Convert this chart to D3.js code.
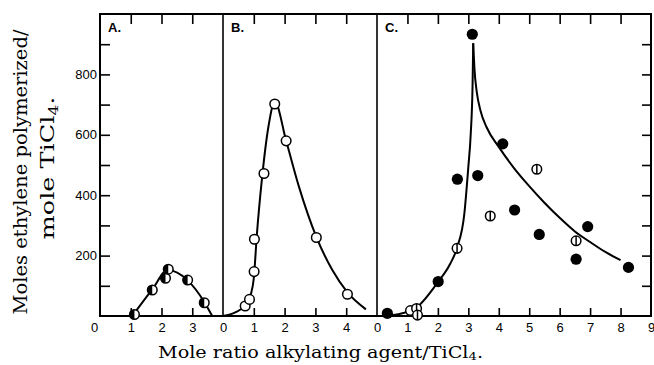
<!DOCTYPE html>
<html>
<head>
<meta charset="utf-8">
<script src="https://cdn.jsdelivr.net/npm/d3@7"></script>
<style>
  html, body { margin: 0; padding: 0; background: #fff; }
  svg { display: block; }
</style>
</head>
<body>
<svg id="chart" width="654" height="365"></svg>
<script>
// ---------- Data ----------
// Panel A: half-filled circles
const aX = [1.12, 1.7, 2.13, 2.22, 2.85, 3.39];
const aY = [5, 86, 125, 155, 119, 44];
const aCurveX = [1.05, 1.7, 2.2, 2.85, 3.4, 3.65];
const aCurveY = [0, 88, 152, 118, 45, 0];

// Panel B: open circles
const bX = [0.72, 0.86, 1.01, 1.02, 1.33, 1.68, 2.05, 3.03, 4.04];
const bY = [33, 55, 147, 254, 472, 702, 580, 260, 72];
const bCurveX = [0, 0.4, 0.72, 0.9, 1.0, 1.1, 1.26, 1.48, 1.68, 2.05, 2.46, 3.03, 3.55, 4.04, 4.64];
const bCurveY = [0, 12, 35, 70, 125, 270, 450, 630, 710, 580, 430, 262, 152, 78, 22];

// Panel C: filled, open and barred circles
const cFilledX = [0.34, 2.01, 2.64, 3.13, 3.31, 4.13, 4.52, 5.33, 6.54, 6.92, 8.26];
const cFilledY = [9, 114, 453, 933, 465, 570, 351, 270, 188, 296, 161];
const cOpenX = [1.1];
const cOpenY = [18];
const cBarredX = [1.3, 1.33, 2.63, 3.72, 5.25, 6.54];
const cBarredY = [25, 3, 224, 331, 486, 249];
const cLeftX = [0.3, 0.8, 1.3, 2.0, 2.4, 2.63, 2.87, 3.0, 3.08, 3.14, 3.16];
const cLeftY = [0, 8, 28, 112, 172, 226, 340, 494, 605, 770, 903];
const cRightX = [3.16, 3.2, 3.28, 3.4, 3.6, 4.0, 4.5, 5.0, 5.5, 6.0, 6.5, 7.0, 7.5, 8.0];
const cRightY = [903, 820, 740, 680, 625, 560, 490, 430, 375, 325, 280, 245, 212, 185];

// Tick labels
const yTickLabels = [200, 400, 600, 800];
const yMinorTicks = [100, 200, 300, 400, 500, 600, 700, 800, 900];
const aTicks = [1, 2, 3];
const bTicks = [0, 1, 2, 3, 4];
const cTicks = [0, 1, 2, 3, 4, 5, 6, 7, 8, 9];
const panelNames = ["A.", "B.", "C."];

// ---------- Layout ----------
const svg = d3.select("#chart");
const plotTop = 14, plotBottom = 316;
const y = d3.scaleLinear().domain([0, 1000]).range([plotBottom, plotTop]);
const xA = d3.scaleLinear().domain([0, 4]).range([100, 223]);
const xB = d3.scaleLinear().domain([0, 5]).range([223, 377]);
const xC = d3.scaleLinear().domain([0, 9]).range([377, 651]);

const sansFont = "'Liberation Sans', Arial, sans-serif";
const serifFont = "'DejaVu Serif', serif";
const intFmt = d3.format("d");

// ---------- Frame and dividers ----------
svg.append("rect")
  .attr("x", xA(0)).attr("y", plotTop)
  .attr("width", xC(9) - xA(0)).attr("height", plotBottom - plotTop)
  .attr("fill", "none").attr("stroke", "#000").attr("stroke-width", 2);
[xB(0), xC(0)].forEach(xx => {
  svg.append("line").attr("x1", xx).attr("x2", xx).attr("y1", plotTop).attr("y2", plotBottom)
    .attr("stroke", "#000").attr("stroke-width", 1.6);
});

// ---------- Axes ----------
function styleAxis(g) {
  g.select(".domain").remove();
  g.selectAll(".tick line").attr("stroke", "#000").attr("stroke-width", 1.6);
  g.selectAll(".tick text").attr("fill", "#000")
    .style("font-family", sansFont).style("font-size", "13px");
}

// left y axis (inward ticks)
const gyL = svg.append("g").attr("transform", `translate(${xA(0)},0)`)
  .call(d3.axisLeft(y).tickValues(yMinorTicks).tickSizeInner(-10).tickSizeOuter(0)
    .tickFormat(d => yTickLabels.includes(d) ? intFmt(d) : ""));
styleAxis(gyL);
gyL.selectAll(".tick text").attr("x", -3).attr("text-anchor", "end");

// right y ticks on C
const gyR = svg.append("g").attr("transform", `translate(${xC(9)},0)`)
  .call(d3.axisRight(y).tickValues(yMinorTicks).tickSizeInner(-9).tickSizeOuter(0).tickFormat(""));
styleAxis(gyR);

function bottomAxis(scale, ticks) {
  const g = svg.append("g").attr("transform", `translate(0,${plotBottom})`)
    .call(d3.axisBottom(scale).tickValues(ticks).tickSizeInner(-8).tickSizeOuter(0).tickFormat(intFmt));
  styleAxis(g);
  g.selectAll(".tick text").attr("y", 16).attr("dy", 0);
  return g;
}
function topAxis(scale, ticks) {
  const g = svg.append("g").attr("transform", `translate(0,${plotTop})`)
    .call(d3.axisTop(scale).tickValues(ticks).tickSizeInner(-10).tickSizeOuter(0).tickFormat(""));
  styleAxis(g);
  return g;
}
const gA = bottomAxis(xA, [0].concat(aTicks));
gA.selectAll(".tick").filter(d => d === 0).select("line").remove();
gA.selectAll(".tick").filter(d => d === 0).select("text").attr("x", -6);
bottomAxis(xB, bTicks).selectAll(".tick").filter(d => d === 0).select("line").remove();
bottomAxis(xC, cTicks).selectAll(".tick").filter(d => d === 0 || d === 9).select("line").remove();
topAxis(xA, aTicks);
topAxis(xB, bTicks.filter(d => d > 0));
topAxis(xC, cTicks.filter(d => d > 0 && d < 9));

// panel labels
[xA, xB, xC].forEach((sc, i) => {
  svg.append("text").attr("x", sc(0) + 8).attr("y", 32)
    .style("font-family", sansFont).style("font-size", "13px").style("font-weight", "bold")
    .text(panelNames[i]);
});

// ---------- Curves ----------
function drawCurve(sc, xs, ys) {
  const pts = xs.map((v, i) => [v, ys[i]]);
  svg.append("path").datum(pts)
    .attr("d", d3.line().x(d => sc(d[0])).y(d => y(d[1])).curve(d3.curveMonotoneX))
    .attr("fill", "none").attr("stroke", "#000").attr("stroke-width", 2);
}
drawCurve(xA, aCurveX, aCurveY);
drawCurve(xB, bCurveX, bCurveY);
drawCurve(xC, cLeftX, cLeftY);
drawCurve(xC, cRightX, cRightY);

// ---------- Markers ----------
const r = 4.8;
function openPts(sc, xs, ys) {
  xs.forEach((v, i) => {
    svg.append("circle").attr("cx", sc(v)).attr("cy", y(ys[i])).attr("r", r)
      .attr("fill", "#fff").attr("stroke", "#000").attr("stroke-width", 1.5);
  });
}
function filledPts(sc, xs, ys) {
  xs.forEach((v, i) => {
    svg.append("circle").attr("cx", sc(v)).attr("cy", y(ys[i])).attr("r", r + 0.8)
      .attr("fill", "#000");
  });
}
function halfPts(sc, xs, ys) {
  xs.forEach((v, i) => {
    const cx = sc(v), cy = y(ys[i]);
    svg.append("circle").attr("cx", cx).attr("cy", cy).attr("r", r)
      .attr("fill", "#fff").attr("stroke", "#000").attr("stroke-width", 1.5);
    svg.append("path")
      .attr("d", `M${cx},${cy - r} A${r},${r} 0 0 0 ${cx},${cy + r} Z`)
      .attr("fill", "#000");
  });
}
function barredPts(sc, xs, ys) {
  xs.forEach((v, i) => {
    const cx = sc(v), cy = y(ys[i]);
    svg.append("circle").attr("cx", cx).attr("cy", cy).attr("r", r)
      .attr("fill", "#fff").attr("stroke", "#000").attr("stroke-width", 1.5);
    svg.append("line").attr("x1", cx).attr("x2", cx).attr("y1", cy - r).attr("y2", cy + r)
      .attr("stroke", "#000").attr("stroke-width", 1.5);
  });
}
halfPts(xA, aX, aY);
openPts(xB, bX, bY);
openPts(xC, cOpenX, cOpenY);
barredPts(xC, cBarredX, cBarredY);
filledPts(xC, cFilledX, cFilledY);

// ---------- Titles ----------
svg.append("text")
  .attr("transform", "translate(27,172) rotate(-90)")
  .attr("text-anchor", "middle")
  .attr("textLength", 285).attr("lengthAdjust", "spacingAndGlyphs")
  .style("font-family", serifFont).style("font-size", "18px")
  .text("Moles ethylene polymerized/");
const yt2 = svg.append("text")
  .attr("transform", "translate(54,168) rotate(-90)")
  .attr("text-anchor", "middle")
  .attr("textLength", 143).attr("lengthAdjust", "spacingAndGlyphs")
  .style("font-family", serifFont).style("font-size", "18px");
yt2.append("tspan").text("mole TiCl");
yt2.append("tspan").attr("dy", 4).style("font-size", "12px").text("4");
yt2.append("tspan").attr("dy", -4).text(".");

const xt = svg.append("text")
  .attr("x", 158).attr("y", 358)
  .attr("textLength", 325).attr("lengthAdjust", "spacingAndGlyphs")
  .style("font-family", serifFont).style("font-size", "16px");
xt.append("tspan").text("Mole ratio alkylating agent/TiCl");
xt.append("tspan").attr("dy", 2).style("font-size", "11px").text("4");
xt.append("tspan").attr("dy", -2).text(".");
</script>
</body>
</html>
